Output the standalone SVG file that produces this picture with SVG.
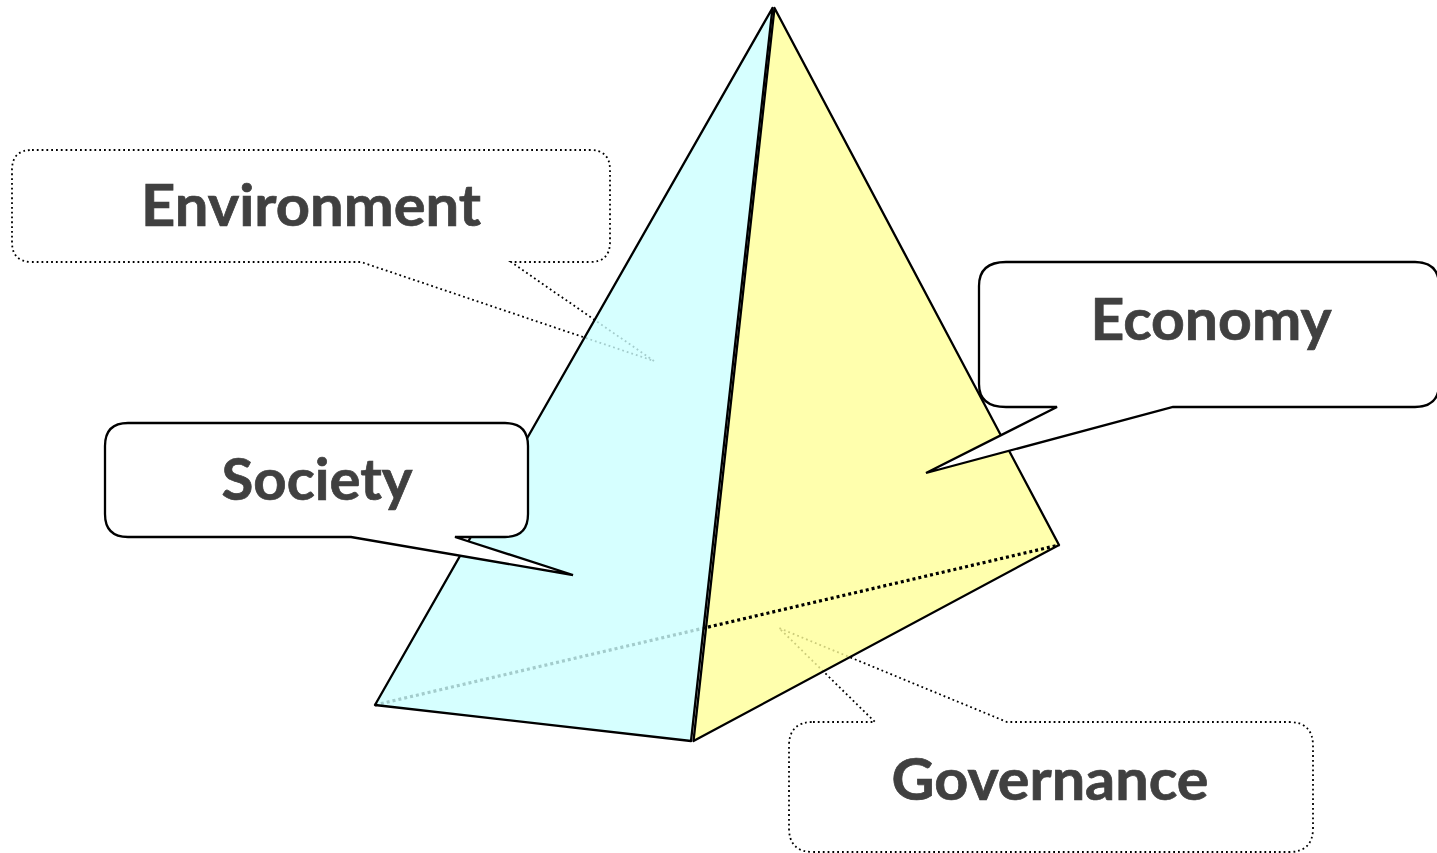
<svg xmlns="http://www.w3.org/2000/svg" width="1437" height="853" viewBox="0 0 1437 853">
<style>
.dot{fill:#fff;stroke:#000;stroke-width:1.8;stroke-dasharray:1.8 3}
.solid{fill:#fff;stroke:#000;stroke-width:2.3;stroke-linejoin:miter}
.edge{stroke:#000;stroke-width:2.3;stroke-linejoin:round}
.lbl{font-family:Lato,"Liberation Sans",sans-serif;font-weight:700;font-size:58px;fill:#404040;stroke:#404040;stroke-width:.7;text-anchor:middle}
</style>
<rect width="1437" height="853" fill="#fff"/>
<g id="environment">
<path class="dot" d="M32 150H590Q610 150 610 170V242Q610 262 590 262H511L654 361L361 262H32Q12 262 12 242V170Q12 150 32 150Z"/>
<text class="lbl" x="311" y="226" textLength="340" lengthAdjust="spacingAndGlyphs">Environment</text>
</g>
<g id="governance">
<path class="dot" d="M813 722H875L779 628L1007 722H1289Q1313 722 1313 746V828Q1313 852 1289 852H813Q789 852 789 828V746Q789 722 813 722Z"/>
<text class="lbl" x="1050" y="800" textLength="317" lengthAdjust="spacingAndGlyphs">Governance</text>
</g>
<g id="face-economy">
<polygon class="edge" points="774.5,8 1059,545 693.5,741" fill="#ffff99" fill-opacity=".8"/>
</g>
<g id="connectors">
<line x1="375" y1="705" x2="1059" y2="545" stroke="#000" stroke-width="3.2" stroke-dasharray="3 3"/>
</g>
<g id="face-society">
<polygon class="edge" points="772.5,8 375,705 691,741" fill="#ccffff" fill-opacity=".8"/>
</g>
<g id="society">
<path class="solid" d="M128 423H505Q528 423 528 446V514Q528 537 505 537H469L455 537L573 575L351 537H128Q105 537 105 514V446Q105 423 128 423Z"/>
<text class="lbl" x="317" y="500" textLength="191" lengthAdjust="spacingAndGlyphs">Society</text>
</g>
<g id="economy">
<path class="solid" d="M1006 262H1415Q1439 262 1439 286V384Q1439 407 1415 407H1173L926 473L1057 407H1006Q979 407 979 384V286Q979 262 1006 262Z"/>
<text class="lbl" x="1211" y="340" textLength="241" lengthAdjust="spacingAndGlyphs">Economy</text>
</g>
</svg>
